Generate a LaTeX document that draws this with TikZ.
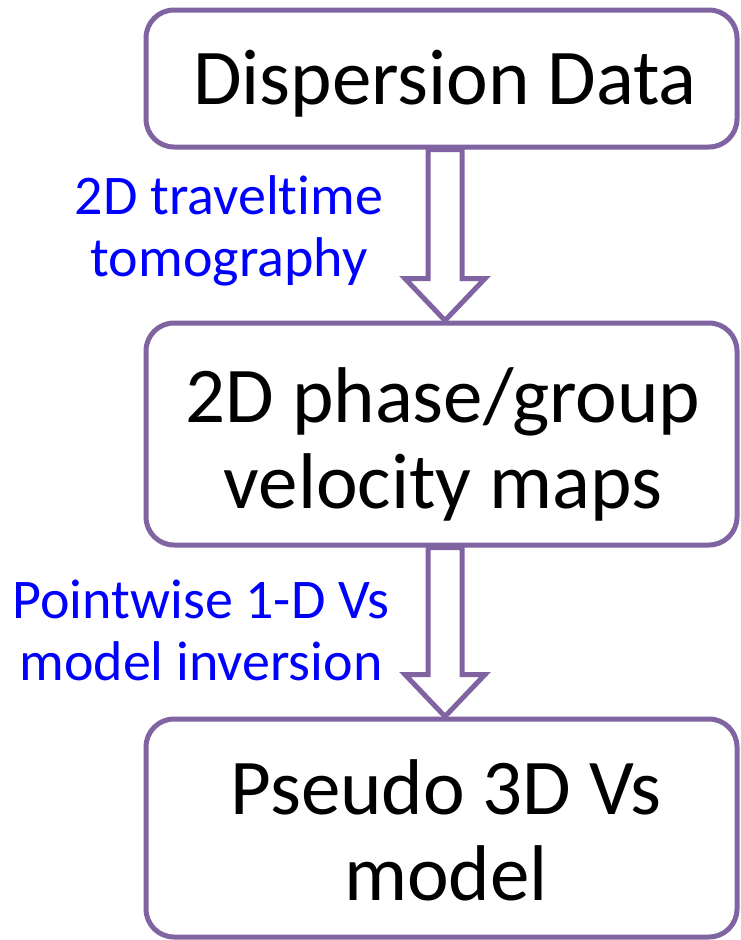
\documentclass[tikz,border=0pt]{standalone}
\usepackage{fontspec}
\setmainfont{Carlito}[Ligatures=NoCommon]
\usetikzlibrary{calc}
\definecolor{boxpurple}{RGB}{128,100,162}
\definecolor{labelblue}{RGB}{0,0,255}
\tikzset{
  stage/.style={draw=boxpurple, line width=5pt, rounded corners=28pt, minimum width=591pt, inner sep=0pt},
  stagetext/.style={font=\fontsize{79}{86}\selectfont, align=center, anchor=base, inner sep=0pt, text=black},
  steplabel/.style={font=\fontsize{56}{62}\selectfont, align=center, text=labelblue, anchor=base, inner sep=0pt},
  blockarrow/.style={draw=boxpurple, line width=5pt, fill=white, line join=miter},
}
\newcommand\flowarrow[2]{%
  \draw[blockarrow] ($(#1)+(-17,0)$) -- ($(#2)+(-17,-42)$) -- ($(#2)+(-40,-42)$) -- (#2)
    -- ($(#2)+(40,-42)$) -- ($(#2)+(17,-42)$) -- ($(#1)+(17,0)$) -- cycle;}
\begin{document}
\begin{tikzpicture}[x=1pt,y=-1pt]
  \useasboundingbox (0,0) rectangle (740,940);
  \coordinate (ax) at (445,0);
  % boxes
  \node[stage, minimum height=137pt] (b1) at (441.5,78.5) {};
  \node[stage, minimum height=222pt] (b2) at (441.5,434) {};
  \node[stage, minimum height=218pt] (b3) at (441.5,828) {};
  % arrows
  \coordinate (a1s) at (b1.south -| ax);
  \coordinate (a1e) at (b2.north -| ax);
  \coordinate (a2s) at (b2.south -| ax);
  \coordinate (a2e) at (b3.north -| ax);
  \flowarrow{a1s}{a1e}
  \flowarrow{a2s}{a2e}
  % texts (base = baseline of last line)
  \node[stagetext] (t1) at (445,104) {Dispersion Data};
  \node[stagetext] (t2) at (443,508) {2D phase/group\\velocity maps};
  \node[stagetext] (t3) at (446,900) {Pseudo 3D Vs\\model};
  \node[steplabel] (l1) at (229,276) {2D traveltime\\tomography};
  \node[steplabel] (l2) at (201,680) {Pointwise 1-D Vs\\model inversion};
\end{tikzpicture}
\end{document}
